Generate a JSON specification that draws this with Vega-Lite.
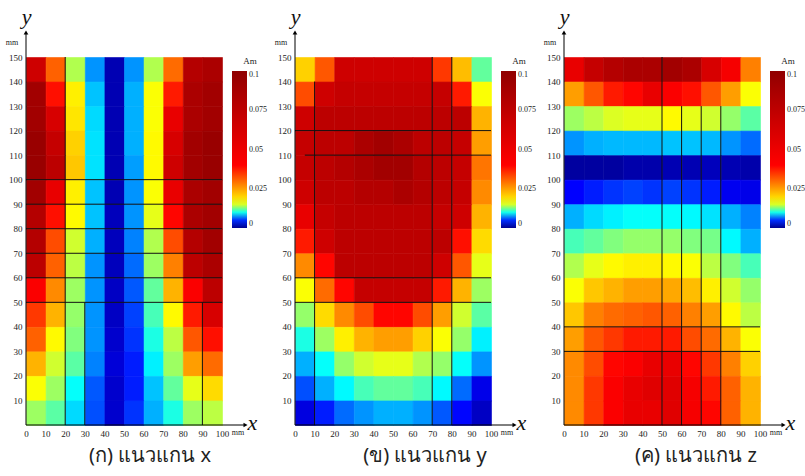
{
"$schema": "https://vega.github.io/schema/vega-lite/v6.json",
"background": "white",
"padding": {"left": 5, "top": 5, "right": 0, "bottom": 2},
"config": {
  "view": {"stroke": null},
  "axis": {"domain": false, "ticks": false, "grid": false, "labelFont": "Liberation Serif", "labelFontSize": 9, "labelColor": "#222", "labelPadding": 4, "labelFlush": false, "titleFont": "Liberation Serif", "titleFontStyle": "italic", "titleFontWeight": "normal", "titleFontSize": 22, "titleColor": "#111", "titleAngle": 0, "titleAlign": "center", "titleBaseline": "alphabetic"},
  "axisX": {"titleAlign": "left"},
  "legend": {"orient": "right", "offset": 10, "gradientLength": 157, "gradientThickness": 15, "labelFont": "Liberation Serif", "labelFontSize": 8, "labelColor": "#222", "titleFont": "Liberation Serif", "titleFontSize": 9, "titleFontWeight": "normal", "titleColor": "#222", "titlePadding": 5, "titleAnchor": "middle", "labelOffset": 2, "gradientStrokeWidth": 0, "direction": "vertical"},
  "title": {"font": "Noto Sans", "fontSize": 20, "fontWeight": "normal", "color": "#222"},
  "concat": {"spacing": 7}
},
"resolve": {"scale": {"color": "independent"}, "legend": {"color": "independent"}},
"datasets": {
"ax": [
{"x":5,"y":145,"v":0.0664},{"x":15,"y":145,"v":0.0309},{"x":25,"y":145,"v":0.014},{"x":35,"y":145,"v":0.0072},{"x":45,"y":145,"v":0.0013},{"x":55,"y":145,"v":0.0072},{"x":65,"y":145,"v":0.014},{"x":75,"y":145,"v":0.0299},{"x":85,"y":145,"v":0.0808},{"x":95,"y":145,"v":0.0856},
{"x":5,"y":135,"v":0.0904},{"x":15,"y":135,"v":0.0386},{"x":25,"y":135,"v":0.0174},{"x":35,"y":135,"v":0.0082},{"x":45,"y":135,"v":0.0013},{"x":55,"y":135,"v":0.0078},{"x":65,"y":135,"v":0.0159},{"x":75,"y":135,"v":0.0376},{"x":85,"y":135,"v":0.0856},{"x":95,"y":135,"v":0.0904},
{"x":5,"y":125,"v":0.0904},{"x":15,"y":125,"v":0.0616},{"x":25,"y":125,"v":0.0184},{"x":35,"y":125,"v":0.0087},{"x":45,"y":125,"v":0.0013},{"x":55,"y":125,"v":0.0078},{"x":65,"y":125,"v":0.0159},{"x":75,"y":125,"v":0.052},{"x":85,"y":125,"v":0.0856},{"x":95,"y":125,"v":0.0904},
{"x":5,"y":115,"v":0.0952},{"x":15,"y":115,"v":0.0712},{"x":25,"y":115,"v":0.0203},{"x":35,"y":115,"v":0.0089},{"x":45,"y":115,"v":0.0013},{"x":55,"y":115,"v":0.0078},{"x":65,"y":115,"v":0.0165},{"x":75,"y":115,"v":0.0616},{"x":85,"y":115,"v":0.0904},{"x":95,"y":115,"v":0.0952},
{"x":5,"y":105,"v":0.0952},{"x":15,"y":105,"v":0.076},{"x":25,"y":105,"v":0.0213},{"x":35,"y":105,"v":0.0089},{"x":45,"y":105,"v":0.0013},{"x":55,"y":105,"v":0.0074},{"x":65,"y":105,"v":0.0165},{"x":75,"y":105,"v":0.0664},{"x":85,"y":105,"v":0.0904},{"x":95,"y":105,"v":0.0952},
{"x":5,"y":95,"v":0.0904},{"x":15,"y":95,"v":0.052},{"x":25,"y":95,"v":0.0174},{"x":35,"y":95,"v":0.0082},{"x":45,"y":95,"v":0.0013},{"x":55,"y":95,"v":0.0072},{"x":65,"y":95,"v":0.0159},{"x":75,"y":95,"v":0.052},{"x":85,"y":95,"v":0.0856},{"x":95,"y":95,"v":0.0904},
{"x":5,"y":85,"v":0.0808},{"x":15,"y":85,"v":0.0386},{"x":25,"y":85,"v":0.0165},{"x":35,"y":85,"v":0.0082},{"x":45,"y":85,"v":0.0016},{"x":55,"y":85,"v":0.0072},{"x":65,"y":85,"v":0.0154},{"x":75,"y":85,"v":0.0395},{"x":85,"y":85,"v":0.0856},{"x":95,"y":85,"v":0.0904},
{"x":5,"y":75,"v":0.0808},{"x":15,"y":75,"v":0.0328},{"x":25,"y":75,"v":0.0148},{"x":35,"y":75,"v":0.0078},{"x":45,"y":75,"v":0.0016},{"x":55,"y":75,"v":0.0068},{"x":65,"y":75,"v":0.014},{"x":75,"y":75,"v":0.0328},{"x":85,"y":75,"v":0.0808},{"x":95,"y":75,"v":0.0904},
{"x":5,"y":65,"v":0.076},{"x":15,"y":65,"v":0.0309},{"x":25,"y":65,"v":0.0143},{"x":35,"y":65,"v":0.0072},{"x":45,"y":65,"v":0.0016},{"x":55,"y":65,"v":0.0063},{"x":65,"y":65,"v":0.0135},{"x":75,"y":65,"v":0.028},{"x":85,"y":65,"v":0.076},{"x":95,"y":65,"v":0.0856},
{"x":5,"y":55,"v":0.0424},{"x":15,"y":55,"v":0.027},{"x":25,"y":55,"v":0.0135},{"x":35,"y":55,"v":0.0072},{"x":45,"y":55,"v":0.0019},{"x":55,"y":55,"v":0.0059},{"x":65,"y":55,"v":0.012},{"x":75,"y":55,"v":0.0232},{"x":85,"y":55,"v":0.0424},{"x":95,"y":55,"v":0.076},
{"x":5,"y":45,"v":0.0347},{"x":15,"y":45,"v":0.0232},{"x":25,"y":45,"v":0.0133},{"x":35,"y":45,"v":0.0072},{"x":45,"y":45,"v":0.0019},{"x":55,"y":45,"v":0.0054},{"x":65,"y":45,"v":0.0113},{"x":75,"y":45,"v":0.0165},{"x":85,"y":45,"v":0.0376},{"x":95,"y":45,"v":0.0616},
{"x":5,"y":35,"v":0.0309},{"x":15,"y":35,"v":0.0165},{"x":25,"y":35,"v":0.0128},{"x":35,"y":35,"v":0.0072},{"x":45,"y":35,"v":0.0022},{"x":55,"y":35,"v":0.0051},{"x":65,"y":35,"v":0.0102},{"x":75,"y":35,"v":0.0143},{"x":85,"y":35,"v":0.0318},{"x":95,"y":35,"v":0.0386},
{"x":5,"y":25,"v":0.0232},{"x":15,"y":25,"v":0.0148},{"x":25,"y":25,"v":0.0118},{"x":35,"y":25,"v":0.0068},{"x":45,"y":25,"v":0.0026},{"x":55,"y":25,"v":0.0046},{"x":65,"y":25,"v":0.0092},{"x":75,"y":25,"v":0.0135},{"x":85,"y":25,"v":0.0251},{"x":95,"y":25,"v":0.0299},
{"x":5,"y":15,"v":0.0159},{"x":15,"y":15,"v":0.0135},{"x":25,"y":15,"v":0.0096},{"x":35,"y":15,"v":0.0059},{"x":45,"y":15,"v":0.0022},{"x":55,"y":15,"v":0.0046},{"x":65,"y":15,"v":0.0082},{"x":75,"y":15,"v":0.012},{"x":85,"y":15,"v":0.0154},{"x":95,"y":15,"v":0.0194},
{"x":5,"y":5,"v":0.0135},{"x":15,"y":5,"v":0.0118},{"x":25,"y":5,"v":0.0087},{"x":35,"y":5,"v":0.0057},{"x":45,"y":5,"v":0.0022},{"x":55,"y":5,"v":0.0051},{"x":65,"y":5,"v":0.0078},{"x":75,"y":5,"v":0.0102},{"x":85,"y":5,"v":0.0135},{"x":95,"y":5,"v":0.0143}
],
"ay": [
{"x":5,"y":145,"v":0.0203},{"x":15,"y":145,"v":0.0318},{"x":25,"y":145,"v":0.0664},{"x":35,"y":145,"v":0.0664},{"x":45,"y":145,"v":0.0664},{"x":55,"y":145,"v":0.0664},{"x":65,"y":145,"v":0.0664},{"x":75,"y":145,"v":0.0347},{"x":85,"y":145,"v":0.0222},{"x":95,"y":145,"v":0.012},
{"x":5,"y":135,"v":0.0328},{"x":15,"y":135,"v":0.0664},{"x":25,"y":135,"v":0.0712},{"x":35,"y":135,"v":0.0712},{"x":45,"y":135,"v":0.0712},{"x":55,"y":135,"v":0.0712},{"x":65,"y":135,"v":0.0712},{"x":75,"y":135,"v":0.0712},{"x":85,"y":135,"v":0.0376},{"x":95,"y":135,"v":0.0159},
{"x":5,"y":125,"v":0.0664},{"x":15,"y":125,"v":0.076},{"x":25,"y":125,"v":0.076},{"x":35,"y":125,"v":0.076},{"x":45,"y":125,"v":0.076},{"x":55,"y":125,"v":0.076},{"x":65,"y":125,"v":0.076},{"x":75,"y":125,"v":0.076},{"x":85,"y":125,"v":0.076},{"x":95,"y":125,"v":0.0232},
{"x":5,"y":115,"v":0.0712},{"x":15,"y":115,"v":0.076},{"x":25,"y":115,"v":0.076},{"x":35,"y":115,"v":0.0856},{"x":45,"y":115,"v":0.0904},{"x":55,"y":115,"v":0.0856},{"x":65,"y":115,"v":0.076},{"x":75,"y":115,"v":0.076},{"x":85,"y":115,"v":0.0712},{"x":95,"y":115,"v":0.0251},
{"x":5,"y":105,"v":0.0712},{"x":15,"y":105,"v":0.076},{"x":25,"y":105,"v":0.0808},{"x":35,"y":105,"v":0.0856},{"x":45,"y":105,"v":0.0904},{"x":55,"y":105,"v":0.0904},{"x":65,"y":105,"v":0.0808},{"x":75,"y":105,"v":0.076},{"x":85,"y":105,"v":0.0712},{"x":95,"y":105,"v":0.029},
{"x":5,"y":95,"v":0.0664},{"x":15,"y":95,"v":0.076},{"x":25,"y":95,"v":0.076},{"x":35,"y":95,"v":0.0808},{"x":45,"y":95,"v":0.0808},{"x":55,"y":95,"v":0.0856},{"x":65,"y":95,"v":0.0808},{"x":75,"y":95,"v":0.076},{"x":85,"y":95,"v":0.0712},{"x":95,"y":95,"v":0.027},
{"x":5,"y":85,"v":0.052},{"x":15,"y":85,"v":0.0712},{"x":25,"y":85,"v":0.076},{"x":35,"y":85,"v":0.076},{"x":45,"y":85,"v":0.076},{"x":55,"y":85,"v":0.076},{"x":65,"y":85,"v":0.076},{"x":75,"y":85,"v":0.0712},{"x":85,"y":85,"v":0.0664},{"x":95,"y":85,"v":0.0232},
{"x":5,"y":75,"v":0.0376},{"x":15,"y":75,"v":0.0664},{"x":25,"y":75,"v":0.076},{"x":35,"y":75,"v":0.076},{"x":45,"y":75,"v":0.076},{"x":55,"y":75,"v":0.076},{"x":65,"y":75,"v":0.076},{"x":75,"y":75,"v":0.076},{"x":85,"y":75,"v":0.0386},{"x":95,"y":75,"v":0.0194},
{"x":5,"y":65,"v":0.027},{"x":15,"y":65,"v":0.0395},{"x":25,"y":65,"v":0.076},{"x":35,"y":65,"v":0.076},{"x":45,"y":65,"v":0.076},{"x":55,"y":65,"v":0.076},{"x":65,"y":65,"v":0.076},{"x":75,"y":65,"v":0.0664},{"x":85,"y":65,"v":0.0318},{"x":95,"y":65,"v":0.0154},
{"x":5,"y":55,"v":0.0159},{"x":15,"y":55,"v":0.0299},{"x":25,"y":55,"v":0.0395},{"x":35,"y":55,"v":0.0712},{"x":45,"y":55,"v":0.0712},{"x":55,"y":55,"v":0.0712},{"x":65,"y":55,"v":0.0712},{"x":75,"y":55,"v":0.0376},{"x":85,"y":55,"v":0.0232},{"x":95,"y":55,"v":0.0135},
{"x":5,"y":45,"v":0.0133},{"x":15,"y":45,"v":0.0194},{"x":25,"y":45,"v":0.027},{"x":35,"y":45,"v":0.0328},{"x":45,"y":45,"v":0.0395},{"x":55,"y":45,"v":0.0395},{"x":65,"y":45,"v":0.0328},{"x":75,"y":45,"v":0.0251},{"x":85,"y":45,"v":0.0148},{"x":95,"y":45,"v":0.0118},
{"x":5,"y":35,"v":0.0102},{"x":15,"y":35,"v":0.0135},{"x":25,"y":35,"v":0.0174},{"x":35,"y":35,"v":0.0232},{"x":45,"y":35,"v":0.0251},{"x":55,"y":35,"v":0.0251},{"x":65,"y":35,"v":0.0203},{"x":75,"y":35,"v":0.0159},{"x":85,"y":35,"v":0.0133},{"x":95,"y":35,"v":0.0092},
{"x":5,"y":25,"v":0.0078},{"x":15,"y":25,"v":0.0096},{"x":25,"y":25,"v":0.0133},{"x":35,"y":25,"v":0.0148},{"x":45,"y":25,"v":0.0154},{"x":55,"y":25,"v":0.0154},{"x":65,"y":25,"v":0.014},{"x":75,"y":25,"v":0.0133},{"x":85,"y":25,"v":0.0096},{"x":95,"y":25,"v":0.0072},
{"x":5,"y":15,"v":0.0057},{"x":15,"y":15,"v":0.0078},{"x":25,"y":15,"v":0.0094},{"x":35,"y":15,"v":0.0113},{"x":45,"y":15,"v":0.012},{"x":55,"y":15,"v":0.012},{"x":65,"y":15,"v":0.0113},{"x":75,"y":15,"v":0.0094},{"x":85,"y":15,"v":0.0063},{"x":95,"y":15,"v":0.0032},
{"x":5,"y":5,"v":0.0029},{"x":15,"y":5,"v":0.0046},{"x":25,"y":5,"v":0.0063},{"x":35,"y":5,"v":0.0072},{"x":45,"y":5,"v":0.0078},{"x":55,"y":5,"v":0.0078},{"x":65,"y":5,"v":0.0072},{"x":75,"y":5,"v":0.0059},{"x":85,"y":5,"v":0.0041},{"x":95,"y":5,"v":0.0019}
],
"az": [
{"x":5,"y":145,"v":0.052},{"x":15,"y":145,"v":0.0712},{"x":25,"y":145,"v":0.0808},{"x":35,"y":145,"v":0.0856},{"x":45,"y":145,"v":0.0856},{"x":55,"y":145,"v":0.0904},{"x":65,"y":145,"v":0.0856},{"x":75,"y":145,"v":0.0616},{"x":85,"y":145,"v":0.0448},{"x":95,"y":145,"v":0.028},
{"x":5,"y":135,"v":0.0251},{"x":15,"y":135,"v":0.0318},{"x":25,"y":135,"v":0.0376},{"x":35,"y":135,"v":0.0395},{"x":45,"y":135,"v":0.052},{"x":55,"y":135,"v":0.0424},{"x":65,"y":135,"v":0.0386},{"x":75,"y":135,"v":0.0318},{"x":85,"y":135,"v":0.0251},{"x":95,"y":135,"v":0.0159},
{"x":5,"y":125,"v":0.0135},{"x":15,"y":125,"v":0.0143},{"x":25,"y":125,"v":0.0151},{"x":35,"y":125,"v":0.0154},{"x":45,"y":125,"v":0.0154},{"x":55,"y":125,"v":0.0165},{"x":65,"y":125,"v":0.0154},{"x":75,"y":125,"v":0.0148},{"x":85,"y":125,"v":0.0133},{"x":95,"y":125,"v":0.0118},
{"x":5,"y":115,"v":0.0072},{"x":15,"y":115,"v":0.0078},{"x":25,"y":115,"v":0.008},{"x":35,"y":115,"v":0.008},{"x":45,"y":115,"v":0.008},{"x":55,"y":115,"v":0.0082},{"x":65,"y":115,"v":0.0082},{"x":75,"y":115,"v":0.008},{"x":85,"y":115,"v":0.0072},{"x":95,"y":115,"v":0.0063},
{"x":5,"y":105,"v":0.0006},{"x":15,"y":105,"v":0.0006},{"x":25,"y":105,"v":0.0006},{"x":35,"y":105,"v":0.001},{"x":45,"y":105,"v":0.001},{"x":55,"y":105,"v":0.0013},{"x":65,"y":105,"v":0.0013},{"x":75,"y":105,"v":0.0016},{"x":85,"y":105,"v":0.0013},{"x":95,"y":105,"v":0.001},
{"x":5,"y":95,"v":0.004},{"x":15,"y":95,"v":0.0046},{"x":25,"y":95,"v":0.0051},{"x":35,"y":95,"v":0.0054},{"x":45,"y":95,"v":0.0051},{"x":55,"y":95,"v":0.0054},{"x":65,"y":95,"v":0.0051},{"x":75,"y":95,"v":0.0046},{"x":85,"y":95,"v":0.0035},{"x":95,"y":95,"v":0.0032},
{"x":5,"y":85,"v":0.0078},{"x":15,"y":85,"v":0.0087},{"x":25,"y":85,"v":0.0092},{"x":35,"y":85,"v":0.0096},{"x":45,"y":85,"v":0.0096},{"x":55,"y":85,"v":0.0096},{"x":65,"y":85,"v":0.0094},{"x":75,"y":85,"v":0.0089},{"x":85,"y":85,"v":0.0078},{"x":95,"y":85,"v":0.0068},
{"x":5,"y":75,"v":0.0113},{"x":15,"y":75,"v":0.012},{"x":25,"y":75,"v":0.0128},{"x":35,"y":75,"v":0.0133},{"x":45,"y":75,"v":0.0133},{"x":55,"y":75,"v":0.0133},{"x":65,"y":75,"v":0.0128},{"x":75,"y":75,"v":0.0125},{"x":85,"y":75,"v":0.0094},{"x":95,"y":75,"v":0.0078},
{"x":5,"y":65,"v":0.014},{"x":15,"y":65,"v":0.0154},{"x":25,"y":65,"v":0.0165},{"x":35,"y":65,"v":0.0174},{"x":45,"y":65,"v":0.0174},{"x":55,"y":65,"v":0.0165},{"x":65,"y":65,"v":0.0159},{"x":75,"y":65,"v":0.0143},{"x":85,"y":65,"v":0.0128},{"x":95,"y":65,"v":0.0113},
{"x":5,"y":55,"v":0.0159},{"x":15,"y":55,"v":0.0213},{"x":25,"y":55,"v":0.0232},{"x":35,"y":55,"v":0.0251},{"x":45,"y":55,"v":0.0251},{"x":55,"y":55,"v":0.0242},{"x":65,"y":55,"v":0.0222},{"x":75,"y":55,"v":0.0174},{"x":85,"y":55,"v":0.0148},{"x":95,"y":55,"v":0.0133},
{"x":5,"y":45,"v":0.0213},{"x":15,"y":45,"v":0.028},{"x":25,"y":45,"v":0.0299},{"x":35,"y":45,"v":0.0309},{"x":45,"y":45,"v":0.0318},{"x":55,"y":45,"v":0.0309},{"x":65,"y":45,"v":0.028},{"x":75,"y":45,"v":0.0251},{"x":85,"y":45,"v":0.0165},{"x":95,"y":45,"v":0.0143},
{"x":5,"y":35,"v":0.0251},{"x":15,"y":35,"v":0.0318},{"x":25,"y":35,"v":0.0347},{"x":35,"y":35,"v":0.0376},{"x":45,"y":35,"v":0.0376},{"x":55,"y":35,"v":0.0376},{"x":65,"y":35,"v":0.0328},{"x":75,"y":35,"v":0.0299},{"x":85,"y":35,"v":0.0232},{"x":95,"y":35,"v":0.0159},
{"x":5,"y":25,"v":0.027},{"x":15,"y":25,"v":0.0328},{"x":25,"y":25,"v":0.0395},{"x":35,"y":25,"v":0.0424},{"x":45,"y":25,"v":0.052},{"x":55,"y":25,"v":0.052},{"x":65,"y":25,"v":0.0395},{"x":75,"y":25,"v":0.0347},{"x":85,"y":25,"v":0.028},{"x":95,"y":25,"v":0.0203},
{"x":5,"y":15,"v":0.027},{"x":15,"y":15,"v":0.0347},{"x":25,"y":15,"v":0.0424},{"x":35,"y":15,"v":0.052},{"x":45,"y":15,"v":0.0568},{"x":55,"y":15,"v":0.0568},{"x":65,"y":15,"v":0.0448},{"x":75,"y":15,"v":0.0376},{"x":85,"y":15,"v":0.0309},{"x":95,"y":15,"v":0.0232},
{"x":5,"y":5,"v":0.027},{"x":15,"y":5,"v":0.0347},{"x":25,"y":5,"v":0.0424},{"x":35,"y":5,"v":0.052},{"x":45,"y":5,"v":0.052},{"x":55,"y":5,"v":0.0568},{"x":65,"y":5,"v":0.0448},{"x":75,"y":5,"v":0.0395},{"x":85,"y":5,"v":0.0309},{"x":95,"y":5,"v":0.0232}
],
"lx": [{"x1":0,"x2":100,"y1":100,"y2":100},{"x1":0,"x2":100,"y1":90,"y2":90},{"x1":0,"x2":100,"y1":80,"y2":80},{"x1":0,"x2":100,"y1":70,"y2":70},{"x1":0,"x2":100,"y1":60,"y2":60},{"x1":0,"x2":100,"y1":50,"y2":50},{"x1":20,"x2":20,"y1":0,"y2":150},{"x1":30,"x2":30,"y1":0,"y2":50},{"x1":90,"x2":90,"y1":0,"y2":50}],
"ly": [{"x1":0,"x2":100,"y1":120,"y2":120},{"x1":5,"x2":100,"y1":110,"y2":110},{"x1":0,"x2":100,"y1":60,"y2":60},{"x1":0,"x2":100,"y1":50,"y2":50},{"x1":10,"x2":10,"y1":0,"y2":140},{"x1":70,"x2":70,"y1":0,"y2":150},{"x1":80,"x2":80,"y1":0,"y2":150}],
"lz": [{"x1":50,"x2":50,"y1":0,"y2":150},{"x1":60,"x2":60,"y1":0,"y2":130},{"x1":70,"x2":70,"y1":0,"y2":130},{"x1":80,"x2":80,"y1":0,"y2":130},{"x1":0,"x2":100,"y1":40,"y2":40},{"x1":0,"x2":100,"y1":30,"y2":30}]
},
"hconcat": [
{
 "width": 196, "height": 368,
 "title": {"text": "(ก) แนวแกน x", "orient": "bottom", "anchor": "middle", "dx": 26, "offset": 8},
 "layer": [
  {"data": {"name": "ax"}, "mark": {"type": "rect", "binSpacing": 0, "strokeWidth": 0.6},
   "encoding": {
    "x": {"field": "x", "type": "quantitative", "bin": {"step": 10, "extent": [0, 100]}, "scale": {"domain": [0, 100], "nice": false}, "axis": {"values": [0,10,20,30,40,50,60,70,80,90,100], "title": "x", "titleX": 221, "titleY": 4}},
    "y": {"field": "y", "type": "quantitative", "bin": {"step": 10, "extent": [0, 150]}, "scale": {"domain": [0, 150], "nice": false}, "axis": {"values": [10,20,30,40,50,60,70,80,90,100,110,120,130,140,150], "title": "y", "titleX": 0, "titleY": -34}},
    "color": {"field": "v", "type": "quantitative", "scale": {"domain": [0, 0.004, 0.0095, 0.016, 0.04, 0.1], "range": ["#00008f", "#0000ff", "#00ffff", "#ffff00", "#ff0000", "#900000"], "interpolate": "rgb"}, "legend": {"values": [0, 0.025, 0.05, 0.075, 0.1], "format": ".3~f", "title": "Am"}},
    "stroke": {"field": "v", "type": "quantitative", "scale": {"domain": [0, 0.004, 0.0095, 0.016, 0.04, 0.1], "range": ["#00008f", "#0000ff", "#00ffff", "#ffff00", "#ff0000", "#900000"], "interpolate": "rgb"}, "legend": null}
   }},
  {"data": {"name": "lx"}, "mark": {"type": "rule", "color": "#111", "strokeWidth": 1}, "encoding": {"x": {"field": "x1", "type": "quantitative"}, "x2": {"field": "x2"}, "y": {"field": "y1", "type": "quantitative"}, "y2": {"field": "y2"}}},
  {"data": {"values": [{}]}, "mark": {"type": "rule", "color": "#000", "strokeWidth": 1}, "encoding": {"x": {"datum": 0, "type": "quantitative"}, "y": {"datum": 0, "type": "quantitative"}, "y2": {"datum": 160}}},
  {"data": {"values": [{}]}, "mark": {"type": "rule", "color": "#000", "strokeWidth": 1}, "encoding": {"x": {"datum": 0, "type": "quantitative"}, "x2": {"datum": 112}, "y": {"datum": 0, "type": "quantitative"}}},
  {"data": {"values": [{}]}, "mark": {"type": "point", "shape": "triangle-up", "filled": true, "color": "#000", "opacity": 1, "size": 22}, "encoding": {"x": {"datum": 0, "type": "quantitative"}, "y": {"datum": 160, "type": "quantitative"}}},
  {"data": {"values": [{}]}, "mark": {"type": "point", "shape": "triangle-right", "filled": true, "color": "#000", "opacity": 1, "size": 22}, "encoding": {"x": {"datum": 112, "type": "quantitative"}, "y": {"datum": 0, "type": "quantitative"}}},
  {"data": {"values": [{}]}, "mark": {"type": "text", "text": "mm", "dx": -14, "dy": -14, "font": "Liberation Serif", "fontSize": 8, "color": "#222"}, "encoding": {"x": {"datum": 0, "type": "quantitative"}, "y": {"datum": 150, "type": "quantitative"}}},
  {"data": {"values": [{}]}, "mark": {"type": "text", "text": "mm", "dx": 16, "dy": 8, "font": "Liberation Serif", "fontSize": 8, "color": "#222"}, "encoding": {"x": {"datum": 100, "type": "quantitative"}, "y": {"datum": 0, "type": "quantitative"}}}
 ]
},
{
 "width": 196, "height": 368,
 "title": {"text": "(ข) แนวแกน y", "orient": "bottom", "anchor": "middle", "dx": 32, "offset": 8},
 "layer": [
  {"data": {"name": "ay"}, "mark": {"type": "rect", "binSpacing": 0, "strokeWidth": 0.6},
   "encoding": {
    "x": {"field": "x", "type": "quantitative", "bin": {"step": 10, "extent": [0, 100]}, "scale": {"domain": [0, 100], "nice": false}, "axis": {"values": [0,10,20,30,40,50,60,70,80,90,100], "title": "x", "titleX": 221, "titleY": 4}},
    "y": {"field": "y", "type": "quantitative", "bin": {"step": 10, "extent": [0, 150]}, "scale": {"domain": [0, 150], "nice": false}, "axis": {"values": [10,20,30,40,50,60,70,80,90,100,110,120,130,140,150], "title": "y", "titleX": 0, "titleY": -34}},
    "color": {"field": "v", "type": "quantitative", "scale": {"domain": [0, 0.004, 0.0095, 0.016, 0.04, 0.1], "range": ["#00008f", "#0000ff", "#00ffff", "#ffff00", "#ff0000", "#900000"], "interpolate": "rgb"}, "legend": {"values": [0, 0.025, 0.05, 0.075, 0.1], "format": ".3~f", "title": "Am"}},
    "stroke": {"field": "v", "type": "quantitative", "scale": {"domain": [0, 0.004, 0.0095, 0.016, 0.04, 0.1], "range": ["#00008f", "#0000ff", "#00ffff", "#ffff00", "#ff0000", "#900000"], "interpolate": "rgb"}, "legend": null}
   }},
  {"data": {"name": "ly"}, "mark": {"type": "rule", "color": "#111", "strokeWidth": 1}, "encoding": {"x": {"field": "x1", "type": "quantitative"}, "x2": {"field": "x2"}, "y": {"field": "y1", "type": "quantitative"}, "y2": {"field": "y2"}}},
  {"data": {"values": [{}]}, "mark": {"type": "rule", "color": "#000", "strokeWidth": 1}, "encoding": {"x": {"datum": 0, "type": "quantitative"}, "y": {"datum": 0, "type": "quantitative"}, "y2": {"datum": 160}}},
  {"data": {"values": [{}]}, "mark": {"type": "rule", "color": "#000", "strokeWidth": 1}, "encoding": {"x": {"datum": 0, "type": "quantitative"}, "x2": {"datum": 112}, "y": {"datum": 0, "type": "quantitative"}}},
  {"data": {"values": [{}]}, "mark": {"type": "point", "shape": "triangle-up", "filled": true, "color": "#000", "opacity": 1, "size": 22}, "encoding": {"x": {"datum": 0, "type": "quantitative"}, "y": {"datum": 160, "type": "quantitative"}}},
  {"data": {"values": [{}]}, "mark": {"type": "point", "shape": "triangle-right", "filled": true, "color": "#000", "opacity": 1, "size": 22}, "encoding": {"x": {"datum": 112, "type": "quantitative"}, "y": {"datum": 0, "type": "quantitative"}}},
  {"data": {"values": [{}]}, "mark": {"type": "text", "text": "mm", "dx": -14, "dy": -14, "font": "Liberation Serif", "fontSize": 8, "color": "#222"}, "encoding": {"x": {"datum": 0, "type": "quantitative"}, "y": {"datum": 150, "type": "quantitative"}}},
  {"data": {"values": [{}]}, "mark": {"type": "text", "text": "mm", "dx": 16, "dy": 8, "font": "Liberation Serif", "fontSize": 8, "color": "#222"}, "encoding": {"x": {"datum": 100, "type": "quantitative"}, "y": {"datum": 0, "type": "quantitative"}}}
 ]
},
{
 "width": 196, "height": 368,
 "title": {"text": "(ค) แนวแกน z", "orient": "bottom", "anchor": "middle", "dx": 34, "offset": 8},
 "layer": [
  {"data": {"name": "az"}, "mark": {"type": "rect", "binSpacing": 0, "strokeWidth": 0.6},
   "encoding": {
    "x": {"field": "x", "type": "quantitative", "bin": {"step": 10, "extent": [0, 100]}, "scale": {"domain": [0, 100], "nice": false}, "axis": {"values": [0,10,20,30,40,50,60,70,80,90,100], "title": "x", "titleX": 221, "titleY": 4}},
    "y": {"field": "y", "type": "quantitative", "bin": {"step": 10, "extent": [0, 150]}, "scale": {"domain": [0, 150], "nice": false}, "axis": {"values": [10,20,30,40,50,60,70,80,90,100,110,120,130,140,150], "title": "y", "titleX": 0, "titleY": -34}},
    "color": {"field": "v", "type": "quantitative", "scale": {"domain": [0, 0.004, 0.0095, 0.016, 0.04, 0.1], "range": ["#00008f", "#0000ff", "#00ffff", "#ffff00", "#ff0000", "#900000"], "interpolate": "rgb"}, "legend": {"values": [0, 0.025, 0.05, 0.075, 0.1], "format": ".3~f", "title": "Am"}},
    "stroke": {"field": "v", "type": "quantitative", "scale": {"domain": [0, 0.004, 0.0095, 0.016, 0.04, 0.1], "range": ["#00008f", "#0000ff", "#00ffff", "#ffff00", "#ff0000", "#900000"], "interpolate": "rgb"}, "legend": null}
   }},
  {"data": {"name": "lz"}, "mark": {"type": "rule", "color": "#111", "strokeWidth": 1}, "encoding": {"x": {"field": "x1", "type": "quantitative"}, "x2": {"field": "x2"}, "y": {"field": "y1", "type": "quantitative"}, "y2": {"field": "y2"}}},
  {"data": {"values": [{}]}, "mark": {"type": "rule", "color": "#000", "strokeWidth": 1}, "encoding": {"x": {"datum": 0, "type": "quantitative"}, "y": {"datum": 0, "type": "quantitative"}, "y2": {"datum": 160}}},
  {"data": {"values": [{}]}, "mark": {"type": "rule", "color": "#000", "strokeWidth": 1}, "encoding": {"x": {"datum": 0, "type": "quantitative"}, "x2": {"datum": 112}, "y": {"datum": 0, "type": "quantitative"}}},
  {"data": {"values": [{}]}, "mark": {"type": "point", "shape": "triangle-up", "filled": true, "color": "#000", "opacity": 1, "size": 22}, "encoding": {"x": {"datum": 0, "type": "quantitative"}, "y": {"datum": 160, "type": "quantitative"}}},
  {"data": {"values": [{}]}, "mark": {"type": "point", "shape": "triangle-right", "filled": true, "color": "#000", "opacity": 1, "size": 22}, "encoding": {"x": {"datum": 112, "type": "quantitative"}, "y": {"datum": 0, "type": "quantitative"}}},
  {"data": {"values": [{}]}, "mark": {"type": "text", "text": "mm", "dx": -14, "dy": -14, "font": "Liberation Serif", "fontSize": 8, "color": "#222"}, "encoding": {"x": {"datum": 0, "type": "quantitative"}, "y": {"datum": 150, "type": "quantitative"}}},
  {"data": {"values": [{}]}, "mark": {"type": "text", "text": "mm", "dx": 16, "dy": 8, "font": "Liberation Serif", "fontSize": 8, "color": "#222"}, "encoding": {"x": {"datum": 100, "type": "quantitative"}, "y": {"datum": 0, "type": "quantitative"}}}
 ]
}
]
}
